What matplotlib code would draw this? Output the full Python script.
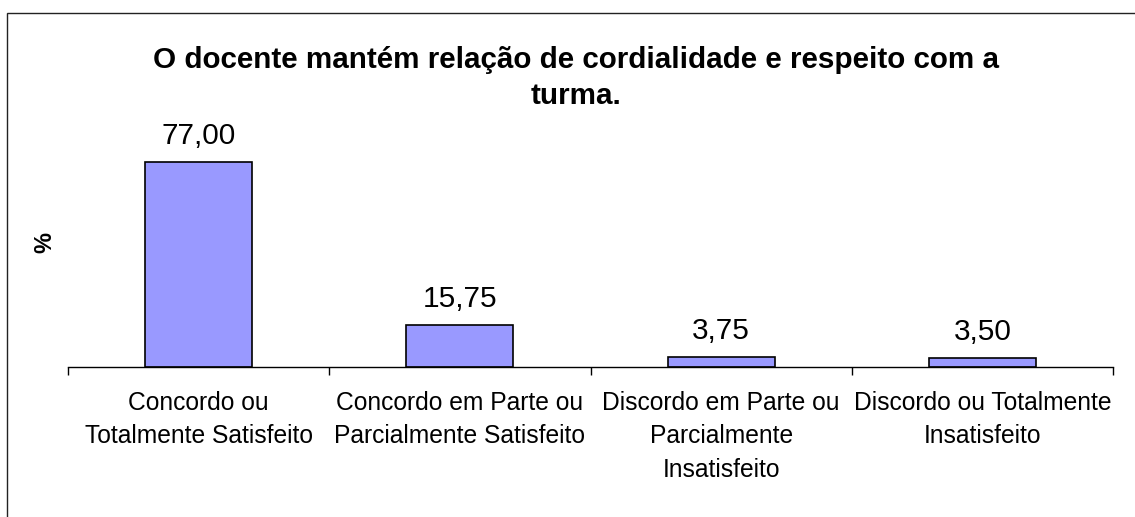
import numpy as np
import matplotlib
matplotlib.use("Agg")
import matplotlib.pyplot as plt
from matplotlib.patches import Rectangle

categories = ["Concordo ou\nTotalmente Satisfeito",
              "Concordo em Parte ou\nParcialmente Satisfeito",
              "Discordo em Parte ou\nParcialmente\nInsatisfeito",
              "Discordo ou Totalmente\nInsatisfeito"]
values = [77.00, 15.75, 3.75, 3.50]
title = "O docente mantém relação de cordialidade e respeito com a\nturma."

plt.rcParams['font.family'] = ['Liberation Sans', 'DejaVu Sans']

W, H = 1135, 517
fig = plt.figure(figsize=(W / 100, H / 100), dpi=100)

# outer chart frame (only top and left edges visible in the picture)
fig.patches.append(Rectangle((7 / W, -0.1), 2, (H - 13) / H + 0.1,
                             transform=fig.transFigure, fill=False,
                             edgecolor='#222222', lw=1.0))

ax = fig.add_axes([68 / W, (H - 367) / H, (1113 - 68) / W, 213 / H])
x = np.arange(len(values))
bars = ax.bar(x, values, width=0.41, color='#9999FF', edgecolor='black', lw=1.2)
ax.set_xlim(-0.5, len(values) - 0.5)
ax.set_ylim(0, 80)

for xi, v in zip(x, values):
    ax.annotate(f"{v:.2f}".replace('.', ','), (xi, v), xytext=(0, 13),
                textcoords='offset points', ha='center', va='baseline',
                fontsize=21.4, annotation_clip=False)

for s in ['left', 'top', 'right']:
    ax.spines[s].set_visible(False)
ax.spines['bottom'].set_linewidth(1.0)
ax.set_yticks([])
ax.set_xticks(x)
ax.set_xticklabels(categories, fontsize=17.7, linespacing=1.5)
ax.tick_params(axis='x', which='major', length=0, pad=17)
ax.set_xticks(np.arange(len(values) + 1) - 0.5, minor=True)
ax.tick_params(axis='x', which='minor', length=5.8, width=1.0, direction='out')

fig.text(45 / W, 1 - 243 / H, "%", rotation=90, ha='center', va='center',
         fontsize=17, fontweight='bold')
fig.text(576 / W, 1 - 46 / H, title, ha='center', va='top',
         fontsize=21.3, fontweight='bold', linespacing=1.35)

fig.savefig("out.png", dpi=100)
